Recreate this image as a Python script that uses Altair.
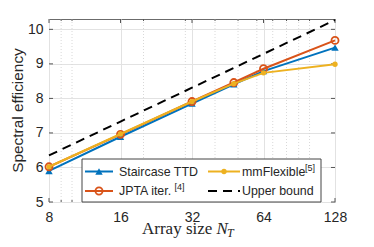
import altair as alt
import pandas as pd

# ---- data ----
x_vals = [8, 16, 32, 48, 64, 128]
staircase = [5.90, 6.89, 7.85, 8.41, 8.79, 9.47]
jpta = [6.02, 6.96, 7.91, 8.46, 8.86, 9.68]
mmflex = [6.02, 6.97, 7.91, 8.43, 8.74, 8.99]
ub_x = [8, 16, 32, 64, 128]
upper = [6.35, 7.33, 8.31, 9.29, 10.27]

x_ticks = [8, 16, 32, 64, 128]
x_minor = [9, 10, 20, 30, 40, 50, 60, 70, 80, 90, 100]
y_ticks = [5, 6, 7, 8, 9, 10]

BLUE = "#0072BD"
ORANGE = "#D95319"
YELLOW = "#EDB120"
W, H = 286, 183
FONT = "Liberation Sans"

xs = alt.Scale(type="log", base=2, domain=[8, 128], nice=False)
ys = alt.Scale(domain=[5, 10.3], nice=False, zero=False)

df_st = pd.DataFrame({"x": x_vals, "y": staircase})
df_jp = pd.DataFrame({"x": x_vals, "y": jpta})
df_mm = pd.DataFrame({"x": x_vals, "y": mmflex})
df_ub = pd.DataFrame({"x": ub_x, "y": upper})
df_xt = pd.DataFrame({"x": x_ticks})
df_xm = pd.DataFrame({"x": x_minor})
df_yt = pd.DataFrame({"y": y_ticks})

xaxis = alt.Axis(values=x_ticks, format="d", grid=True, gridColor="#e2e2e2",
                 domain=False, ticks=False, labelFont=FONT, labelFontSize=14,
                 labelColor="#262626", labelPadding=8, title=None, labelFlush=False)
yaxis = alt.Axis(values=y_ticks, format="d", grid=True, gridColor="#e2e2e2",
                 domain=False, ticks=False, labelFont=FONT, labelFontSize=14,
                 labelColor="#262626", labelPadding=6, title=None)

X = lambda: alt.X("x:Q", scale=xs, axis=xaxis)
Y = lambda: alt.Y("y:Q", scale=ys, axis=yaxis)

# minor grid
minor_grid = alt.Chart(df_xm).mark_rule(color="#d8d8d8", strokeDash=[1, 2], strokeWidth=1).encode(
    x=X(), y=alt.value(0), y2=alt.value(H))

# inward ticks
tick_c = "#555555"
xt_b = alt.Chart(df_xt).mark_rule(color=tick_c).encode(x=X(), y=alt.value(H), y2=alt.value(H - 4))
xt_t = alt.Chart(df_xt).mark_rule(color=tick_c).encode(x=X(), y=alt.value(0), y2=alt.value(4))
xm_b = alt.Chart(df_xm).mark_rule(color=tick_c).encode(x=X(), y=alt.value(H), y2=alt.value(H - 2))
xm_t = alt.Chart(df_xm).mark_rule(color=tick_c).encode(x=X(), y=alt.value(0), y2=alt.value(2))
yt_l = alt.Chart(df_yt).mark_rule(color=tick_c).encode(y=Y(), x=alt.value(0), x2=alt.value(4))
yt_r = alt.Chart(df_yt).mark_rule(color=tick_c).encode(y=Y(), x=alt.value(W), x2=alt.value(W - 4))


def enc(ch):
    return ch.encode(x=X(), y=Y())


ub_line = enc(alt.Chart(df_ub).mark_line(color="black", strokeWidth=2, strokeDash=[9, 6]))
st_line = enc(alt.Chart(df_st).mark_line(color=BLUE, strokeWidth=2))
st_pt = enc(alt.Chart(df_st).mark_point(shape="triangle-up", filled=True, color=BLUE, size=55, opacity=1))
jp_line = enc(alt.Chart(df_jp).mark_line(color=ORANGE, strokeWidth=2))
jp_pt = enc(alt.Chart(df_jp).mark_point(shape="circle", filled=False, color=ORANGE, size=50, strokeWidth=1.8, opacity=1))
mm_line = enc(alt.Chart(df_mm).mark_line(color=YELLOW, strokeWidth=2))
mm_pt = enc(alt.Chart(df_mm).mark_point(shape="circle", filled=True, color=YELLOW, size=28, opacity=1))

one = pd.DataFrame({"a": [0]})

# legend (manual, to allow superscripts)
LX1, LX2, LY1, LY2 = 33, 272, 140, 183
R1, R2 = 152.5, 172
leg_box = alt.Chart(one).mark_rect(fill="white", stroke="#444444", strokeWidth=1).encode(
    x=alt.value(LX1), x2=alt.value(LX2), y=alt.value(LY1), y2=alt.value(LY2))


def lline(x1, x2, y, color, dash=None):
    kw = dict(color=color, strokeWidth=2)
    if dash:
        kw["strokeDash"] = dash
    return alt.Chart(one).mark_rule(**kw).encode(x=alt.value(x1), x2=alt.value(x2), y=alt.value(y))


def lpt(x, y, **kw):
    return alt.Chart(one).mark_point(opacity=1, **kw).encode(x=alt.value(x), y=alt.value(y))


def ltext(x, y, s, size=12.4, baseline="middle", font=FONT, style=None):
    kw = dict(text=s, align="left", baseline=baseline, font=font, fontSize=size, color="#262626")
    if style:
        kw["fontStyle"] = style
    return alt.Chart(one).mark_text(**kw).encode(x=alt.value(x), y=alt.value(y))


legend = [
    leg_box,
    lline(36, 64, R1, BLUE), lpt(50, R1, shape="triangle-up", filled=True, color=BLUE, size=55),
    ltext(70, R1, "Staircase TTD"),
    lline(36, 64, R2, ORANGE), lpt(50, R2, shape="circle", filled=False, color=ORANGE, size=50, strokeWidth=1.8),
    ltext(70, R2, "JPTA iter."), ltext(125.5, R2 - 4, "[4]", size=9),
    lline(159, 191, R1, YELLOW), lpt(175, R1, shape="circle", filled=True, color=YELLOW, size=28),
    ltext(193, R1, "mmFlexible"), ltext(256, R1 - 4, "[5]", size=9),
    lline(159, 191, R2, "black", dash=[9, 6]),
    ltext(193, R2, "Upper bound"),
]

# axis titles
SERIF = "Liberation Serif"
titles = [
    alt.Chart(one).mark_text(text="Spectral efficiency", angle=270, align="center", baseline="middle",
                             font=FONT, fontSize=15.4, color="#262626").encode(
        x=alt.value(-31), y=alt.value(H / 2)),
    ltext(93, 214.5, "Array size", size=17, baseline="alphabetic", font=SERIF),
    ltext(167.5, 214.5, "N", size=17, baseline="alphabetic", font=SERIF, style="italic"),
    ltext(178, 218, "T", size=12, baseline="alphabetic", font=SERIF, style="italic"),
]

chart = alt.layer(
    minor_grid,
    xt_b, xt_t, xm_b, xm_t, yt_l, yt_r,
    ub_line, st_line, st_pt, jp_line, jp_pt, mm_line, mm_pt,
    *legend, *titles,
).properties(
    width=W, height=H,
    autosize=alt.AutoSizeParams(type="none"),
    padding={"left": 41, "top": 11, "right": 20, "bottom": 40},
).configure_view(stroke="#6b6b6b", strokeWidth=1)

chart.save("out.html", embed_options={"renderer": "svg", "actions": False})
